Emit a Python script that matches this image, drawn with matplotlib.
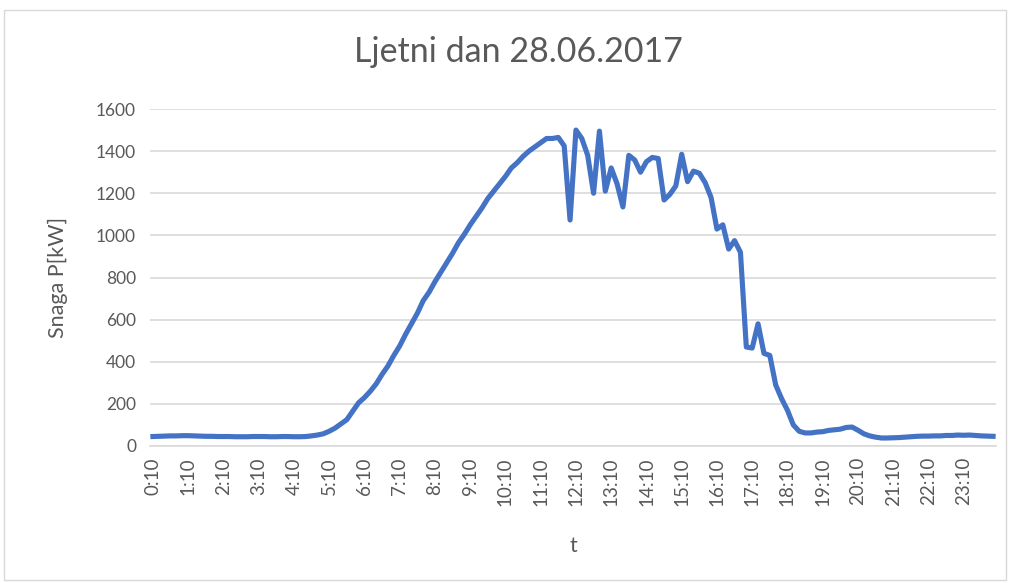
import matplotlib
matplotlib.use("Agg")
import matplotlib.pyplot as plt
from matplotlib.patches import Rectangle

# snaga u koracima od 10 min, 0:10 ... 24:00
power_kw = [
    45, 46, 47, 48, 48, 49,
    49, 48, 47, 46, 46, 45,
    45, 45, 44, 44, 44, 45,
    45, 45, 44, 44, 45, 45,
    44, 44, 45, 48, 52, 58,
    70, 85, 105, 125, 165, 205,
    230, 260, 295, 340, 380, 430,
    475, 530, 580, 630, 690, 730,
    780, 825, 870, 915, 965, 1005,
    1050, 1090, 1130, 1175, 1210, 1245,
    1280, 1320, 1345, 1375, 1400, 1420,
    1440, 1460, 1460, 1465, 1425, 1073,
    1500, 1460, 1380, 1200, 1495, 1210,
    1320, 1245, 1135, 1380, 1358, 1300,
    1350, 1370, 1365, 1168, 1195, 1235,
    1385, 1255, 1305, 1295, 1250, 1180,
    1030, 1050, 935, 975, 920, 470,
    465, 580, 440, 430, 290, 225,
    170, 100, 70, 62, 62, 66,
    68, 74, 77, 80, 88, 90,
    75, 58, 48, 42, 38, 38,
    39, 40, 42, 44, 46, 47,
    47, 48, 48, 50, 50, 52,
    51, 52, 50, 48, 47, 46,
]
tick_labels = [f"{h}:10" for h in range(24)]
yticks = [0, 200, 400, 600, 800, 1000, 1200, 1400, 1600]

grey = "#595959"
plt.rcParams['font.family'] = ['Lato', 'DejaVu Sans']

fig = plt.figure(figsize=(10.10, 5.83), dpi=100)
ax = fig.add_axes([150 / 1010, 1 - 446 / 583, 846 / 1010, 337 / 583])

x = list(range(len(power_kw)))
ax.plot(x, power_kw, color="#4472C4", lw=3.7, solid_joinstyle="round")

ax.set_xlim(-0.5, len(power_kw) - 0.5)
ax.set_ylim(0, 1600)
ax.set_yticks(yticks)
ax.set_yticklabels([str(v) for v in yticks], fontsize=12.5, color=grey)
ax.set_xticks(x[::6])
ax.set_xticklabels(tick_labels, rotation=90, fontsize=13.5, color=grey)
ax.tick_params(length=0, pad=10)
ax.tick_params(axis="x", pad=8)

ax.grid(axis="y", color="#D9D9D9", lw=1.2)
ax.set_axisbelow(True)
for s in ["top", "right", "left"]:
    ax.spines[s].set_visible(False)
ax.spines["bottom"].set_color("#D9D9D9")
ax.spines["bottom"].set_linewidth(1.2)

ax.set_xlabel("t", fontsize=15.5, color=grey, labelpad=22)
ax.set_ylabel("Snaga P[kW]", fontsize=15.5, color=grey, labelpad=20)
fig.text(0.513, 1 - 52 / 583, "Ljetni dan 28.06.2017", ha="center", va="center",
         fontsize=24.5, color=grey)

fig.patches.append(Rectangle((4 / 1010, 3 / 583), 1002 / 1010, 570 / 583,
                             transform=fig.transFigure, fill=False,
                             edgecolor="#D9D9D9", lw=1))

fig.savefig("out.png", dpi=100)
